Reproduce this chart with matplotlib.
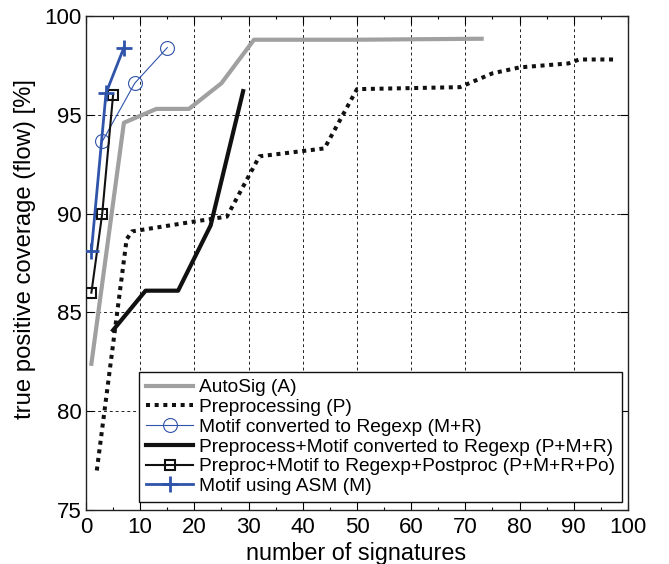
import matplotlib
matplotlib.use("Agg")
import matplotlib.pyplot as plt
from matplotlib.ticker import MultipleLocator

plt.rcParams['font.family'] = ['Liberation Sans', 'DejaVu Sans']

# Data
autosig_x = [1, 7, 13, 19, 25, 31, 50, 73]
autosig_y = [82.4, 94.6, 95.3, 95.3, 96.6, 98.8, 98.8, 98.85]

prep_x = [2, 7.5, 8.5, 20, 26, 32, 44, 50, 69, 75, 80, 89, 91, 98]
prep_y = [77.0, 88.7, 89.1, 89.6, 89.85, 92.9, 93.3, 96.3, 96.4, 97.1, 97.4, 97.6, 97.8, 97.8]

mr_x = [3, 9, 15]
mr_y = [93.65, 96.6, 98.4]

pmr_x = [5, 11, 17, 23, 29]
pmr_y = [84.1, 86.1, 86.1, 89.4, 96.2]

pmrpo_x = [1, 3, 5]
pmrpo_y = [86.0, 90.0, 96.0]

asm_x = [1, 3.7, 7]
asm_y = [88.1, 96.1, 98.4]

labels = [
    "AutoSig (A)",
    "Preprocessing (P)",
    "Motif converted to Regexp (M+R)",
    "Preprocess+Motif converted to Regexp (P+M+R)",
    "Preproc+Motif to Regexp+Postproc (P+M+R+Po)",
    "Motif using ASM (M)",
]

xticks = list(range(0, 101, 10))
yticks = [75, 80, 85, 90, 95, 100]

fig = plt.figure(figsize=(6.69, 5.64), dpi=100)
ax = fig.add_axes([0.1285, 0.0957, 0.8102, 0.8759])

gray = '#a0a0a0'
blue = '#2f54aa'

ax.plot(autosig_x, autosig_y, color=gray, lw=3.0, label=labels[0], zorder=3)
ax.plot(prep_x, prep_y, color='#111111', lw=2.9, dashes=(1.0, 1.15), dash_capstyle='butt', label=labels[1], zorder=3)
ax.plot(mr_x, mr_y, color=blue, lw=0.8, marker='o', ms=10, mfc='none', mec=blue, mew=0.8, label=labels[2], zorder=4)
ax.plot(pmr_x, pmr_y, color='#111111', lw=3.0, label=labels[3], zorder=3)
ax.plot(pmrpo_x, pmrpo_y, color='#111111', lw=1.5, marker='s', ms=6.5, mfc='none', mec='#111111', mew=1.5, label=labels[4], zorder=4)
ax.plot(asm_x, asm_y, color=blue, lw=2.0, marker='+', ms=11, mew=2.0, label=labels[5], zorder=5)

ax.set_xlim(0, 100)
ax.set_ylim(75, 100)
ax.set_xticks(xticks)
ax.set_yticks(yticks)
ax.xaxis.set_minor_locator(MultipleLocator(5))
ax.tick_params(which='both', direction='in', top=True, right=True, labelsize=16)
ax.tick_params(which='major', length=5.5, width=0.8)
ax.tick_params(which='minor', length=2.5, width=0.8)
ax.tick_params(axis='x', pad=5)
ax.tick_params(axis='y', pad=3)
ax.grid(True, which='major', color='#222222', linestyle=(0, (3, 3)), lw=0.7)
for s in ax.spines.values():
    s.set_linewidth(1.0)
    s.set_color('#222222')

ax.set_xlabel("number of signatures", fontsize=16.8)
ax.set_ylabel("true positive coverage (flow) [%]", fontsize=17.2)
ax.xaxis.label.set_va('center')
ax.yaxis.label.set_va('center')
ax.xaxis.set_label_coords(0.498, -0.087)
ax.yaxis.set_label_coords(-0.1125, 0.528)

leg = ax.legend(loc='lower right', bbox_to_anchor=(0.9884, 0.0168), borderaxespad=0,
                fontsize=13.8, frameon=True, fancybox=False, framealpha=1,
                edgecolor='#111111', handlelength=2.45, handletextpad=0.3,
                labelspacing=0.12, borderpad=0.35)
leg.get_frame().set_linewidth(1.0)

fig.savefig("out.png", dpi=100)
